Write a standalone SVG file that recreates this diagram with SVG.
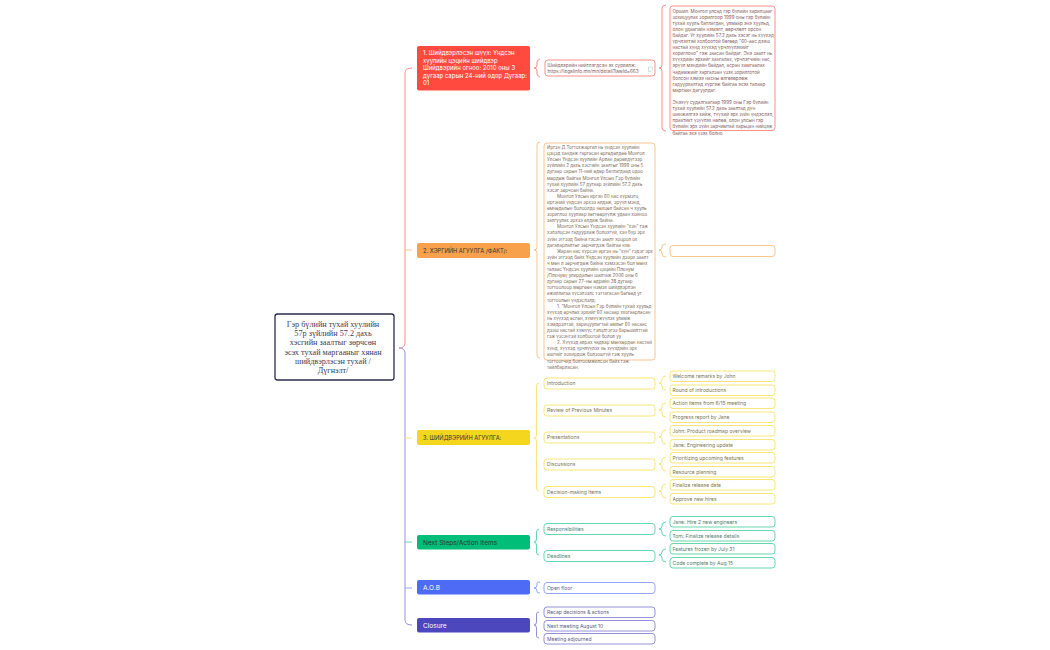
<svg xmlns="http://www.w3.org/2000/svg" width="1050" height="650" viewBox="0 0 1050 650">
<style>
text{font-family:Inter,"Noto Sans",sans-serif;font-size:5px;fill:#666}
.b{fill:#fff;stroke-width:1}
.l{fill:none;stroke-width:1}
.h{font-size:6.5px;fill:#333}
.hc{font-size:5.7px;fill:#333}
.h1{font-size:6px;fill:#fff}
.w{fill:#fff}
.d{font-size:4.6px}
.e{font-size:4.5px}
.s{font-size:4.7px}
.red{stroke:#ff8f88}.org{stroke:#fbc58f}.yel{stroke:#f9e67a}.grn{stroke:#66d7ae}.blu{stroke:#94a6f9}.ind{stroke:#9491d7}
.tr{fill:#845c5a}.to{fill:#7d6c58}.ty{fill:#7a7550}.tg{fill:#4f7d6d}.tb{fill:#5c6484}.ti{fill:#5c5a84}
.root{font-family:"Liberation Serif",serif;font-size:8.2px;fill:#3a3c5a;text-anchor:middle}
</style>
<rect width="1050" height="650" fill="#fff"/>
<g id="connectors">
<path class="l red" d="M399 348Q405 348 405 343V73Q405 68 412 68"/>
<path class="l ind" d="M399 348Q405 348 405 353V620Q405 625 412 625"/>
<path class="l org" d="M405 250H412"/>
<path class="l yel" d="M405 438H412"/>
<path class="l grn" d="M405 542H412"/>
<path class="l blu" d="M405 588H412"/>
<path class="l red" d="M534 68Q537 68 537 65V62Q537 60 540 59M534 68Q537 68 537 71V74Q537 76 540 77"/>
<path class="l red" d="M659 68Q662 68 662 65V8Q662 5 666 5M659 68Q662 68 662 71V128Q662 131 666 131"/>
<path class="l org" d="M534 250Q537 250 537 247V145Q537 142 540 142M534 250Q537 250 537 253V355Q537 358 540 358"/>
<path class="l org" d="M659 250Q662 250 662 247V246Q662 244 666 244M659 250Q662 250 662 253V254Q662 257 666 257"/>
<path class="l yel" d="M534 438Q536.500 438 536.500 435V386Q536.500 383 539 383M534 438Q536.500 438 536.500 441V488Q536.500 491 539 491"/>
<path class="l yel" d="M659 383Q662 383 662 380V379Q662 376 666 376M659 383Q662 383 662 386V387Q662 390 666 390"/>
<path class="l yel" d="M659 410Q662 410 662 407V406Q662 403 666 403M659 410Q662 410 662 413V414Q662 417 666 417"/>
<path class="l yel" d="M659 437Q662 437 662 434V433Q662 430 666 430M659 437Q662 437 662 440V441Q662 444 666 444"/>
<path class="l yel" d="M659 464Q662 464 662 461V460Q662 457 666 457M659 464Q662 464 662 467V468Q662 471 666 471"/>
<path class="l yel" d="M659 491Q662 491 662 488V487Q662 484 666 484M659 491Q662 491 662 494V495Q662 498 666 498"/>
<path class="l grn" d="M534 542Q536.500 542 536.500 539V532Q536.500 529 539 529M534 542Q536.500 542 536.500 545V552Q536.500 555 539 555"/>
<path class="l grn" d="M659 529Q662 529 662 526V525Q662 522 666 522M659 529Q662 529 662 532V533Q662 536 666 536"/>
<path class="l grn" d="M659 555Q662 555 662 552V552Q662 549 666 549M659 555Q662 555 662 558V559Q662 562 666 562"/>
<path class="l blu" d="M534 588Q537 588 537 585V583Q537 582 540 582M534 588Q537 588 537 591V592Q537 593 540 593"/>
<path class="l ind" d="M534 625Q536.500 625 536.500 622V614Q536.500 612 539 612M534 625Q536.500 625 536.500 628V636Q536.500 638 539 638"/>
</g>
<g id="root"><rect x="275" y="314" width="119" height="66" rx="2.5" fill="#fff" stroke="#2a2c4e" stroke-width="1.3"/>
<text class="root" x="333" y="327">Гэр бүлийн тухай хуулийн</text>
<text class="root" x="333" y="336">57р зүйлийн 57.2 дахь</text>
<text class="root" x="333" y="345">хэсгийн заалтыг зөрчсөн</text>
<text class="root" x="333" y="355">эсэх тухай маргааныг хянан</text>
<text class="root" x="333" y="364">шийдвэрлэсэн тухай /</text>
<text class="root" x="333" y="373">Дүгнэлт/</text></g>

<g id="n1"><rect x="417" y="46" width="113" height="44.500" rx="2" fill="#ff4a3f"/>
<text class="h1" x="423" y="55">1. Шийдвэрлэсэн шүүх: Үндсэн</text>
<text class="h1" x="423" y="62.500">хуулийн цэцийн шийдвэр</text>
<text class="h1" x="423" y="70">Шийдвэрийн огноо: 2010 оны 3</text>
<text class="h1" x="423" y="77.500">дугаар сарын 24-ний өдөр Дугаар:</text>
<text class="h1" x="423" y="85">01</text></g>
<g id="n1a"><rect class="b red" x="545" y="60" width="110" height="16" rx="3"/>
<text class="tr s" x="547.500" y="67">Шийдвэрийн нийтлэгдсэн эх сурвалж:</text>
<text class="tr s" x="547.500" y="72.500">https://legalinfo.mn/mn/detail?lawId=663</text>
<path d="M648.500 67h4v3l-1.500 1.500h-2.500z" fill="none" stroke="#bbb" stroke-width=".5"/></g>
<g id="n1b"><rect class="b red" x="670" y="6" width="105" height="124.500" rx="3"/>
<text class="tr d" x="672.500" y="12.500">Оршил.  Монгол улсад гэр бүлийн харилцааг</text>
<text class="tr d" x="672.500" y="18.600">зохицуулах зорилгоор 1999 оны гэр бүлийн</text>
<text class="tr d" x="672.500" y="24.700">тухай хуулъ батлагдан, улмаар энэ хуульд,</text>
<text class="tr d" x="672.500" y="30.800">олон удаагийн нэмэлт, өөрчлөлт орсон</text>
<text class="tr d" x="672.500" y="36.900">байдаг. Уг хуулийн 57.2 дахь хэсэг нь хүүхэд</text>
<text class="tr d" x="672.500" y="43">үрчлэхтэй холбоотой бөгөөд "60-аас дээш</text>
<text class="tr d" x="672.500" y="49.100">настай хүнд хүүхэд үрчлүүлэхийг</text>
<text class="tr d" x="672.500" y="55.200">хориглоно" гэж заасан байдаг. Энэ заалт нь</text>
<text class="tr d" x="672.500" y="61.300">хүүхдийн эрхийг хангалах, үрчлэгчийн нас,</text>
<text class="tr d" x="672.500" y="67.400">эрүүл мэндийн байдал, асран хамгаалах</text>
<text class="tr d" x="672.500" y="73.500">чадамжийг харгалзан үзэх зорилготой</text>
<text class="tr d" x="672.500" y="79.600">болсон хэмээ насны өлгөвөрлөж</text>
<text class="tr d" x="672.500" y="85.700">гадуурхалтад хүргэж байгаа эсэх талаар</text>
<text class="tr d" x="672.500" y="91.800">маргаан дагуулдаг.</text>
<text class="tr d" x="672.500" y="104">Энэхүү судалгаагаар 1999 оны Гэр бүлийн</text>
<text class="tr d" x="672.500" y="110.100">тухай хуулийн 57.2 дахь заалтад дүн</text>
<text class="tr d" x="672.500" y="116.200">шинжилгээ хийж, түүхий эрх зүйн үндэслэл,</text>
<text class="tr d" x="672.500" y="122.300">практикт үзүүлэх нөлөө, олон улсын гэр</text>
<text class="tr d" x="672.500" y="128.400">бүлийн эрх зүйн зарчимтай харьцан нийцэж</text>
<text class="tr d" x="672.500" y="134.500">байгаа эхэ үзэх болно.</text>
</g>

<g id="n2"><rect x="417" y="243" width="113" height="15" rx="2" fill="#f7a14c"/>
<text class="hc" x="423" y="252.500">2. ХЭРГИЙН АГУУЛГА /ФАКТ/:</text></g>
<g id="n2a"><rect class="b org" x="544" y="143" width="111" height="217" rx="3"/>
<text class="to e" x="547" y="149">Иргэн Д.Тогтохжаргал нь үндсэн хуулийн</text>
<text class="to e" x="547" y="155.100">цэцэд хандаж гаргасан өргөдөлдөө Монгол</text>
<text class="to e" x="547" y="161.200">Улсын Үндсэн хуулийн Арван дөрөвдүгээр</text>
<text class="to e" x="547" y="167.300">зүйлийн 2 дахь хэсгийн заалтыг 1999 оны 5</text>
<text class="to e" x="547" y="173.400">дугаар сарын 11-ний өдөр батлагдаад одоо</text>
<text class="to e" x="547" y="179.500">мөрдөж байгаа Монгол Улсын Гэр бүлийн</text>
<text class="to e" x="547" y="185.600">тухай хуулийн 57 дугаар зүйлийн 57.2 дахь</text>
<text class="to e" x="547" y="191.700">хэсэг зөрчсөн байна.</text>
<text class="to e" x="557" y="197.800">Монгол Улсын иргэн 60 нас хүрмэгц</text>
<text class="to e" x="547" y="203.900">иргэний үндсэн эрхээ алдаж, эрүүл мэнд,</text>
<text class="to e" x="547" y="210">өмнөдалын болоолдо нөхцөл байсан ч хууль</text>
<text class="to e" x="547" y="216.100">зориглоо хуулиар хөгтөөрүүлж удаан хойноо</text>
<text class="to e" x="547" y="222.200">залгуулах эрхээ алдаж байна.</text>
<text class="to e" x="557" y="228.300">Монгол Улсын Үндсэн хуулийн "хэн" гэж</text>
<text class="to e" x="547" y="234.400">хэлэлцсэн гадуурхаж болохгүй, хэн бүр эрх</text>
<text class="to e" x="547" y="240.500">зүйн этгээд байна гэсэн заалт хоцрол ох</text>
<text class="to e" x="547" y="246.600">дагаварлалтыг зөрчигдэж байгаа юм.</text>
<text class="to e" x="557" y="252.700">Жаран нас хүрсэн иргэн нь "хүн" гэдэг эрх</text>
<text class="to e" x="547" y="258.800">зүйн этгээд байх Үндсэн хуулийн дээрх заалт</text>
<text class="to e" x="547" y="264.900">ч мөн л зөрчигдөж байна хэмээсэн бол мөнх</text>
<text class="to e" x="547" y="271">талаас Үндсэн хуулийн цэцийн Пленум</text>
<text class="to e" x="547" y="277.100">/Пленум/ улирдалын шалтаж 2006 оны 6</text>
<text class="to e" x="547" y="283.200">дугаар сарын 27-ны өдрийн 38 дугаар</text>
<text class="to e" x="547" y="289.300">тогтоолоор мөргөөн нэмэх шийдвэрлэн</text>
<text class="to e" x="547" y="295.400">ажиллагаа хүсэлзэлс тэттагасан бөгөөд уг</text>
<text class="to e" x="547" y="301.500">тогтоолын үндэслэлд:</text>
<text class="to e" x="557" y="307.600">1. "Монгол Улсын Гэр бүлийн тухай хуульд</text>
<text class="to e" x="547" y="313.700">хүүхэд өрчлөх эрхийг 60 насаар хязгаарласан</text>
<text class="to e" x="547" y="319.800">нь хүүхэд өсгөн, хүмүүжүүлэх уламж</text>
<text class="to e" x="547" y="325.900">хэмдрэлтэй, харицуулагтай амлыг 60 насаас</text>
<text class="to e" x="547" y="332">дээш настай хүмүүс гэлцлтэгээ барьшилттай</text>
<text class="to e" x="547" y="338.100">гэж үзсэнтэй холбоотой болов уу</text>
<text class="to e" x="557" y="344.200">2. Хүүхэд аврах чадвар мөнхөрдөн настай</text>
<text class="to e" x="547" y="350.300">хүнд, хүүхэд үрчлүүлэх нь хүүхдийн эрх</text>
<text class="to e" x="547" y="356.400">ашгийг хохирдож болзошгүй гэж хууль</text>
<text class="to e" x="547" y="362.500">тогтоогчид болгоомжилсон байх гэж</text>
<text class="to e" x="547" y="368.600">тайлбарласан.</text></g>
<g id="n2b"><rect class="b org" x="670" y="245.500" width="105" height="11" rx="3"/></g>

<g id="n3"><rect x="417" y="430" width="113" height="15" rx="2" fill="#f5d61f"/>
<text class="hc" x="423" y="439.500">3. ШИЙДВЭРИЙН АГУУЛГА:</text></g>
<g id="n3a"><rect class="b yel" x="544" y="378" width="111" height="11" rx="3"/><text class="ty" x="547" y="385">Introduction</text></g>
<g id="n3b"><rect class="b yel" x="544" y="405" width="111" height="11" rx="3"/><text class="ty" x="547" y="412">Review of Previous Minutes</text></g>
<g id="n3c"><rect class="b yel" x="544" y="432" width="111" height="11" rx="3"/><text class="ty" x="547" y="439">Presentations</text></g>
<g id="n3d"><rect class="b yel" x="544" y="459" width="111" height="11" rx="3"/><text class="ty" x="547" y="466">Discussions</text></g>
<g id="n3e"><rect class="b yel" x="544" y="486.500" width="111" height="11" rx="3"/><text class="ty" x="547" y="493.500">Decision-making Items</text></g>
<g id="n3a1"><rect class="b yel" x="670" y="371" width="105" height="10.500" rx="3"/><text class="ty" x="672.500" y="378">Welcome remarks by John</text></g>
<g id="n3a2"><rect class="b yel" x="670" y="385" width="105" height="10.500" rx="3"/><text class="ty" x="672.500" y="392">Round of introductions</text></g>
<g id="n3b1"><rect class="b yel" x="670" y="398" width="105" height="10.500" rx="3"/><text class="ty" x="672.500" y="405">Action items from 6/15 meeting</text></g>
<g id="n3b2"><rect class="b yel" x="670" y="412" width="105" height="10.500" rx="3"/><text class="ty" x="672.500" y="419">Progress report by Jane</text></g>
<g id="n3c1"><rect class="b yel" x="670" y="425.500" width="105" height="10.500" rx="3"/><text class="ty" x="672.500" y="432.500">John: Product roadmap overview</text></g>
<g id="n3c2"><rect class="b yel" x="670" y="439.500" width="105" height="10.500" rx="3"/><text class="ty" x="672.500" y="446.500">Jane: Engineering update</text></g>
<g id="n3d1"><rect class="b yel" x="670" y="452.500" width="105" height="10.500" rx="3"/><text class="ty" x="672.500" y="459.500">Prioritizing upcoming features</text></g>
<g id="n3d2"><rect class="b yel" x="670" y="466.500" width="105" height="10.500" rx="3"/><text class="ty" x="672.500" y="473.500">Resource planning</text></g>
<g id="n3e1"><rect class="b yel" x="670" y="479.500" width="105" height="10.500" rx="3"/><text class="ty" x="672.500" y="486.500">Finalize release date</text></g>
<g id="n3e2"><rect class="b yel" x="670" y="493.500" width="105" height="10.500" rx="3"/><text class="ty" x="672.500" y="500.500">Approve new hires</text></g>

<g id="n4"><rect x="417" y="535" width="113" height="14.500" rx="2" fill="#00bd78"/>
<text class="h" x="423" y="544.500">Next Steps/Action Items</text></g>
<g id="n4a"><rect class="b grn" x="544" y="523.500" width="111" height="11" rx="3"/><text class="tg" x="547" y="530.500">Responsibilities</text></g>
<g id="n4b"><rect class="b grn" x="544" y="550.500" width="111" height="11" rx="3"/><text class="tg" x="547" y="557.500">Deadlines</text></g>
<g id="n4a1"><rect class="b grn" x="670" y="516.500" width="105" height="10.500" rx="3"/><text class="tg" x="672.500" y="523.500">Jane: Hire 2 new engineers</text></g>
<g id="n4a2"><rect class="b grn" x="670" y="530.500" width="105" height="10.500" rx="3"/><text class="tg" x="672.500" y="537.500">Tom: Finalize release details</text></g>
<g id="n4b1"><rect class="b grn" x="670" y="543.500" width="105" height="10.500" rx="3"/><text class="tg" x="672.500" y="550.500">Features frozen by July 31</text></g>
<g id="n4b2"><rect class="b grn" x="670" y="557.500" width="105" height="10.500" rx="3"/><text class="tg" x="672.500" y="564.500">Code complete by Aug 15</text></g>

<g id="n5"><rect x="417" y="580" width="113" height="14.500" rx="2" fill="#4d6bf5"/>
<text class="h w" x="423" y="589.500">A.O.B</text></g>
<g id="n5a"><rect class="b blu" x="544" y="582.500" width="111" height="11" rx="3"/><text class="tb" x="547" y="589.500">Open floor</text></g>

<g id="n6"><rect x="417" y="618" width="113" height="14.500" rx="2" fill="#4d47bd"/>
<text class="h w" x="423" y="627.500">Closure</text></g>
<g id="n6a"><rect class="b ind" x="544" y="607" width="111" height="10.500" rx="3"/><text class="ti" x="547" y="614">Recap decisions &amp; actions</text></g>
<g id="n6b"><rect class="b ind" x="544" y="620.500" width="111" height="10.500" rx="3"/><text class="ti" x="547" y="627.500">Next meeting August 10</text></g>
<g id="n6c"><rect class="b ind" x="544" y="633.500" width="111" height="10.500" rx="3"/><text class="ti" x="547" y="640.500">Meeting adjourned</text></g>
</svg>
